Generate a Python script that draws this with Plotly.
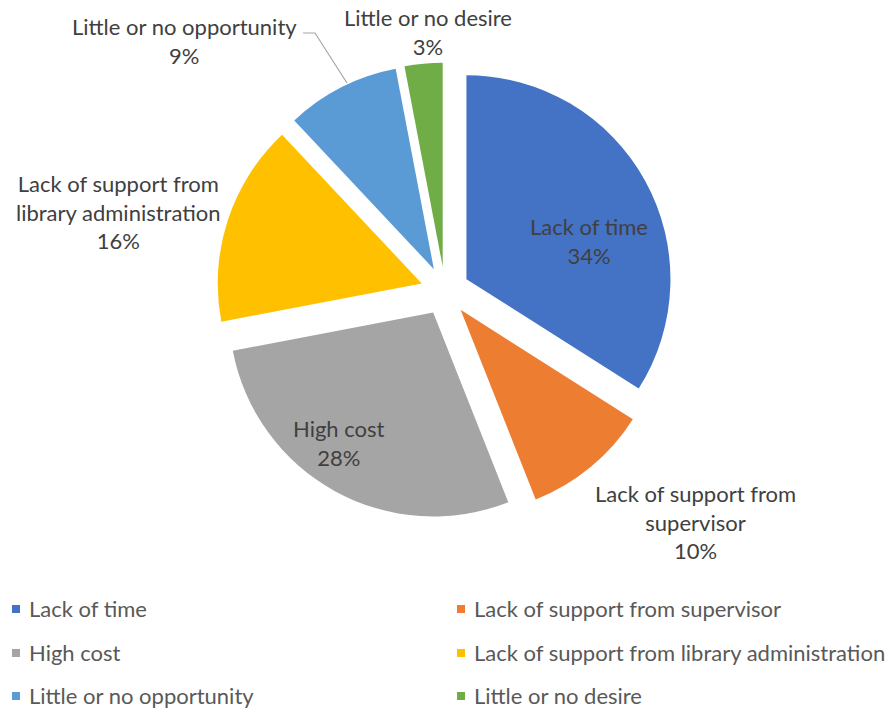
import plotly.graph_objects as go

categories = ["Lack of time", "Lack of support from supervisor", "High cost",
              "Lack of support from library administration",
              "Little or no opportunity", "Little or no desire"]
label_text = ["Lack of time", "Lack of support from<br>supervisor", "High cost",
              "Lack of support from<br>library administration",
              "Little or no opportunity", "Little or no desire"]
values = [34, 10, 28, 16, 9, 3]
colors = ["#4472C4", "#ED7D31", "#A5A5A5", "#FFC000", "#5B9BD5", "#70AD47"]

FONT = "Lato, 'Open Sans', sans-serif"
LABEL_SIZE = 22
LEGEND_SIZE = 22
W, H = 896, 713
PULL = 0.12
R_PX = 204
CX, CY = 445, 291
half = R_PX * (1 + PULL)

# data-label block centres (layout, px from top-left)
label_pos = [(589, 241), (695, 522), (339, 443), (118, 212), (184, 41), (428, 32)]

fig = go.Figure()
fig.add_trace(go.Pie(
    labels=categories,
    values=values,
    textinfo="none",
    marker=dict(colors=colors, line=dict(width=0)),
    pull=[PULL] * len(values),
    sort=False,
    direction="clockwise",
    rotation=0,
    showlegend=False,
    automargin=False,
    domain=dict(x=[(CX - half) / W, (CX + half) / W],
                y=[1 - (CY + half) / H, 1 - (CY - half) / H]),
))

total = sum(values)
annotations = []
shapes = []

# data labels
for txt, v, (px, py) in zip(label_text, values, label_pos):
    annotations.append(dict(xref="paper", yref="paper", x=px / W, y=1 - py / H,
                            xanchor="center", yanchor="middle", align="center",
                            text=f"{txt}<br>{round(v / total * 100)}%",
                            showarrow=False,
                            font=dict(family=FONT, size=LABEL_SIZE, color="#404040")))

# leader line for "Little or no opportunity"
leader = [(303, 33), (315, 33), (347, 83)]
path = "M " + " L ".join(f"{x / W},{1 - y / H}" for x, y in leader)
shapes.append(dict(type="path", xref="paper", yref="paper", path=path,
                   line=dict(color="#A6A6A6", width=1.2)))

# manual two-column legend
col_x = [12, 457]
row_y = [608, 652, 695]
for i, (name, col) in enumerate(zip(categories, colors)):
    cx = col_x[i % 2]
    cy = row_y[i // 2]
    shapes.append(dict(type="rect", xref="paper", yref="paper",
                       x0=cx / W, x1=(cx + 8) / W,
                       y0=1 - (cy + 5) / H, y1=1 - (cy - 3) / H,
                       fillcolor=col, line=dict(width=0)))
    annotations.append(dict(xref="paper", yref="paper", x=(cx + 15) / W,
                            y=1 - cy / H, xanchor="left", yanchor="middle",
                            text=name, showarrow=False,
                            font=dict(family=FONT, size=LEGEND_SIZE, color="#595959")))

fig.update_layout(
    width=W, height=H,
    margin=dict(l=0, r=0, t=0, b=0, autoexpand=False),
    paper_bgcolor="white",
    plot_bgcolor="white",
    shapes=shapes,
    annotations=annotations,
)

fig.write_html("out.html")
